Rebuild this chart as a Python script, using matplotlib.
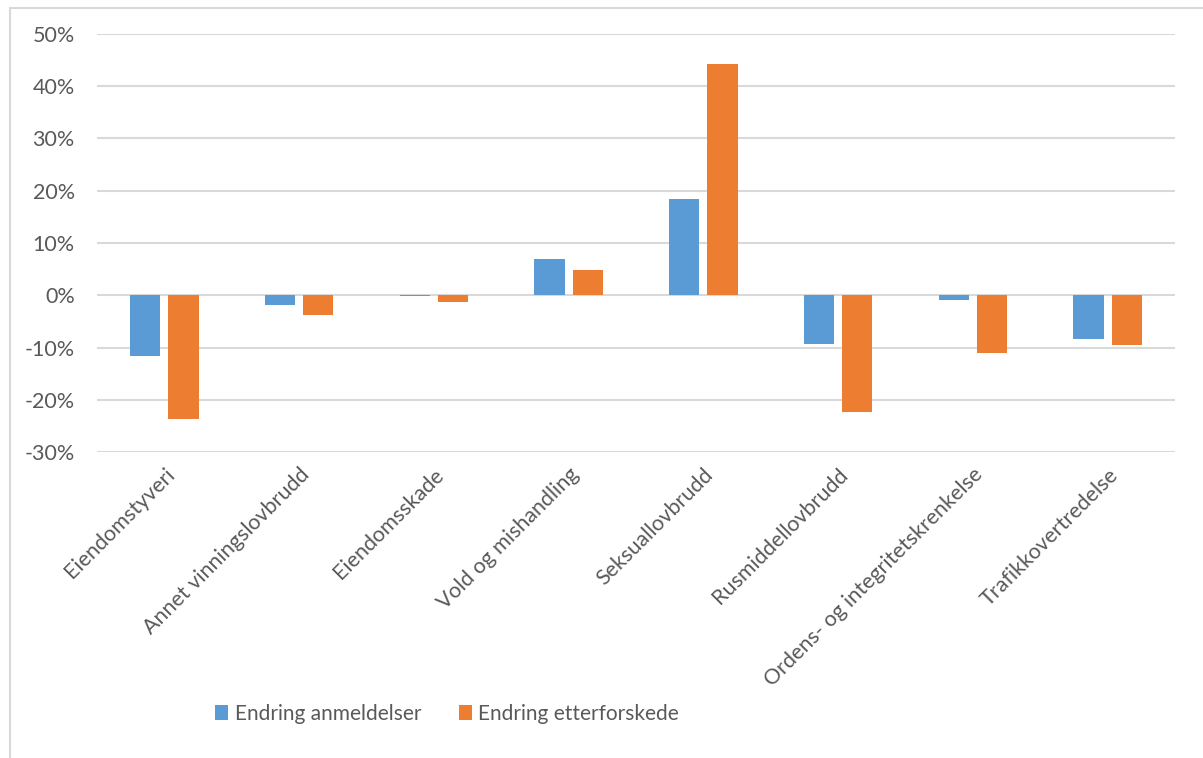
import matplotlib.pyplot as plt
import numpy as np
from matplotlib.patches import Rectangle
from matplotlib.ticker import FuncFormatter

# Endring i anmeldelser og etterforskede per lovbruddsgruppe
categories = [
    "Eiendomstyveri",
    "Annet vinningslovbrudd",
    "Eiendomsskade",
    "Vold og mishandling",
    "Seksuallovbrudd",
    "Rusmiddellovbrudd",
    "Ordens- og integritetskrenkelse",
    "Trafikkovertredelse",
]
anmeldelser = [-11.7, -1.8, -0.1, 7.0, 18.4, -9.3, -1.0, -8.4]
etterforskede = [-23.7, -3.8, -1.3, 4.9, 44.2, -22.4, -11.0, -9.6]
series_labels = ["Endring anmeldelser", "Endring etterforskede"]

blue = "#5B9BD5"
orange = "#ED7D31"
text_grey = "#595959"
grid_grey = "#D9D9D9"

plt.rcParams["font.family"] = ["Lato", "DejaVu Sans"]

fig = plt.figure(figsize=(12.03, 7.58), dpi=100)

# chart area frame
fig.patches.append(Rectangle((10 / 1203, -0.2), 1.5, 1.2 - 8 / 758,
                             transform=fig.transFigure, fill=False,
                             edgecolor=grid_grey, linewidth=1.5, zorder=0))

ax = fig.add_axes([97 / 1203, 1 - 452 / 758, 1078 / 1203, 418 / 758])

x = np.arange(len(categories))
width = 0.225
offset = 0.142
ax.bar(x - offset, anmeldelser, width, color=blue, label=series_labels[0], zorder=3)
ax.bar(x + offset, etterforskede, width, color=orange, label=series_labels[1], zorder=3)

ax.set_xlim(-0.5, len(categories) - 0.5)
ax.set_ylim(-30, 50)
ax.set_yticks(np.arange(-30, 51, 10))
ax.yaxis.set_major_formatter(FuncFormatter(lambda v, _: f"{v:.0f}%"))
ax.grid(axis="y", color=grid_grey, linewidth=1.5, zorder=0)
ax.set_axisbelow(True)

for side in ["top", "right", "left", "bottom"]:
    ax.spines[side].set_visible(False)

ax.set_xticks(x)
ax.set_xticklabels(categories, rotation=45, ha="right", va="top",
                   rotation_mode="anchor", fontsize=15.5, color=text_grey)
ax.tick_params(axis="x", length=0, pad=9)
ax.tick_params(axis="y", length=0, pad=16, labelsize=15.5, labelcolor=text_grey)

ax.legend(loc="center left", bbox_to_anchor=(196 / 1203, 1 - 714 / 758),
          bbox_transform=fig.transFigure, ncol=2, frameon=False,
          fontsize=15, labelcolor=text_grey, handlelength=0.65,
          handleheight=0.75, handletextpad=0.3, columnspacing=1.8)

fig.savefig("out.png", dpi=100)
